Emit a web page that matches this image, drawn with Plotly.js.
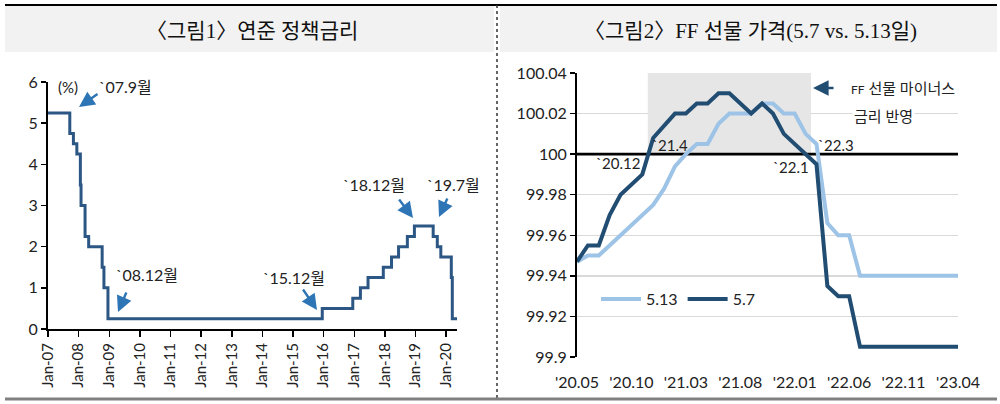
<!DOCTYPE html>
<html>
<head>
<meta charset="utf-8">
<script src="https://cdn.plot.ly/plotly-3.0.1.min.js"></script>
<style>
html,body{margin:0;padding:0;background:#fff;}
#chart{width:1000px;height:404px;}
</style>
</head>
<body>
<div id="chart"></div>
<script>
// ---- Figure 1: Fed policy rate (step changes) ----
const fedDates = ['2007-01-01','2007-09-18','2007-10-31','2007-12-11','2008-01-22','2008-01-30','2008-03-18','2008-04-30','2008-10-08','2008-10-29','2008-12-16','2015-12-16','2016-12-14','2017-03-15','2017-06-14','2017-12-13','2018-03-21','2018-06-13','2018-09-26','2018-12-19','2019-07-31','2019-09-18','2019-10-30','2020-03-03','2020-03-15','2020-05-10'];
const fedRate = [5.25,4.75,4.5,4.25,3.5,3.0,2.25,2.0,1.5,1.0,0.25,0.5,0.75,1.0,1.25,1.5,1.75,2.0,2.25,2.5,2.25,2.0,1.75,1.25,0.25,0.25];

// ---- Figure 2: FF futures price ----
const months = ["'20.05","'20.06","'20.07","'20.08","'20.09","'20.10","'20.11","'20.12","'21.01","'21.02","'21.03","'21.04","'21.05","'21.06","'21.07","'21.08","'21.09","'21.10","'21.11","'21.12","'22.01","'22.02","'22.03","'22.04","'22.05","'22.06","'22.07","'22.08","'22.09","'22.10","'22.11","'22.12","'23.01","'23.02","'23.03","'23.04"];
const price513 = [99.947,99.95,99.95,99.955,99.96,99.965,99.97,99.975,99.983,99.994,100.0,100.005,100.005,100.015,100.02,100.02,100.02,100.025,100.025,100.02,100.02,100.01,100.005,99.966,99.96,99.96,99.94,99.94,99.94,99.94,99.94,99.94,99.94,99.94,99.94,99.94];
const price57  = [99.947,99.955,99.955,99.97,99.98,99.985,99.99,100.008,100.014,100.02,100.02,100.025,100.025,100.03,100.03,100.025,100.02,100.025,100.02,100.01,100.005,100.0,99.995,99.935,99.93,99.93,99.905,99.905,99.905,99.905,99.905,99.905,99.905,99.905,99.905,99.905];
const tickMonths = months.filter((m,i)=> i % 5 === 0);

const FONT = 'Lato, "Noto Sans CJK KR", sans-serif';
const TITLE_FONT = '"Liberation Serif", "DejaVu Serif", "Noto Sans CJK KR", serif';
const TXT = '#222';
const ARROW_BLUE = '#2e75b6';

const px = x => x/1000;
const py = y => 1 - y/404;

const traces = [
  {x: fedDates, y: fedRate, type:'scatter', mode:'lines', line:{shape:'hv', color:'#2c5784', width:3}, xaxis:'x', yaxis:'y', showlegend:false, hoverinfo:'skip'},
  {x: months, y: price513, type:'scatter', mode:'lines', name:'5.13', line:{color:'#9dc3e6', width:4}, xaxis:'x2', yaxis:'y2'},
  {x: months, y: price57, type:'scatter', mode:'lines', name:'5.7', line:{color:'#224d73', width:4}, xaxis:'x2', yaxis:'y2'}
];

function arrow(tipX, tipY, tailX, tailY, color){
  return {xref:'paper', yref:'paper', x:px(tipX), y:py(tipY), ax:tailX-tipX, ay:tailY-tipY,
    axref:'pixel', ayref:'pixel', text:'', showarrow:true, arrowhead:2, arrowsize:1.3, arrowwidth:2.4,
    arrowcolor:color, standoff:0, startstandoff:0};
}
function label(x, y, text, size, anchor, extra){
  return Object.assign({xref:'paper', yref:'paper', x:px(x), y:py(y), text:text, showarrow:false,
    xanchor:anchor||'center', yanchor:'middle', font:{family:FONT, size:size||16, color:TXT}}, extra||{});
}

const annotations = [
  // titles
  {xref:'paper', yref:'paper', x:px(252), y:py(31), text:'〈그림1〉연준 정책금리', showarrow:false, xanchor:'center', yanchor:'middle', font:{family:TITLE_FONT, size:21, color:'#111'}},
  {xref:'paper', yref:'paper', x:px(750), y:py(31), text:'〈그림2〉FF 선물 가격(5.7 vs. 5.13일)', showarrow:false, xanchor:'center', yanchor:'middle', font:{family:TITLE_FONT, size:21, color:'#111'}},
  // figure 1 labels
  label(68, 87, '(%)', 15),
  label(125, 87, '`07.9월', 16),
  label(147, 274, '`08.12월', 16),
  label(294, 277, '`15.12월', 16),
  label(374, 185, '`18.12월', 16),
  label(453, 185, '`19.7월', 16),
  arrow(79, 107, 99, 93, ARROW_BLUE),
  arrow(118, 312, 127, 291, ARROW_BLUE),
  arrow(317, 310, 302, 288, ARROW_BLUE),
  arrow(413, 218, 398, 198, ARROW_BLUE),
  arrow(439, 217, 448, 197, ARROW_BLUE),
  // figure 2 labels
  label(618, 163, '`20.12', 15),
  label(670, 145, '`21.4', 15),
  label(791, 167, '`22.1', 15),
  label(836, 145, '`22.3', 15),
  label(849, 88, '<span style="font-size:12px">FF</span> 선물 마이너스', 15, 'left', {bgcolor:'#fff'}),
  label(852, 116, '금리 반영', 15, 'left', {bgcolor:'#fff'}),
  arrow(813, 88, 835, 88, '#224d73')
];

const shapes = [
  // title bands
  {type:'rect', xref:'paper', yref:'paper', x0:px(5), x1:px(494), y0:py(52), y1:py(5), fillcolor:'#f2f2f2', line:{width:0}, layer:'below'},
  {type:'rect', xref:'paper', yref:'paper', x0:px(500), x1:px(997), y0:py(52), y1:py(5), fillcolor:'#f2f2f2', line:{width:0}, layer:'below'},
  {type:'line', xref:'paper', yref:'paper', x0:px(5), x1:px(997), y0:py(5), y1:py(5), line:{color:'#000', width:2}},
  {type:'line', xref:'paper', yref:'paper', x0:px(497), x1:px(497), y0:py(5), y1:py(400), line:{color:'#333', width:1.5, dash:'dot'}},
  {type:'line', xref:'paper', yref:'paper', x0:px(5), x1:px(997), y0:py(399), y1:py(399), line:{color:'#808080', width:3}},
  // shaded region (negative-rate pricing)
  {type:'rect', xref:'x2', yref:'y2', x0:6.5, x1:21.5, y0:100, y1:100.04, fillcolor:'#e6e6e6', line:{width:0}, layer:'between'},
  // 100 reference line
  {type:'line', xref:'x2', yref:'y2', x0:0, x1:35, y0:100, y1:100, line:{color:'#000', width:2.6}, layer:'between'}
];

const layout = {
  width:1000, height:404,
  margin:{l:0, r:0, t:0, b:0},
  paper_bgcolor:'#fff', plot_bgcolor:'rgba(0,0,0,0)',
  font:{family:FONT, color:TXT},
  showlegend:true,
  legend:{orientation:'h', x:px(596), y:py(299), xanchor:'left', yanchor:'middle', bgcolor:'rgba(0,0,0,0)', font:{family:FONT, size:16, color:TXT}, itemwidth:40, traceorder:'normal'},
  xaxis:{domain:[px(48), px(457)], anchor:'y', type:'date', range:['2007-01-01','2020-05-10'],
    tick0:'2007-01-01', dtick:'M12', tickformat:'%b-%y', tickangle:-90,
    showline:true, linecolor:'#000', linewidth:2, ticks:'outside', ticklen:6, tickcolor:'#000', tickwidth:1.5,
    showgrid:false, zeroline:false, tickfont:{family:FONT, size:15, color:TXT}},
  yaxis:{domain:[py(329), py(82)], anchor:'x', range:[0,6], dtick:1,
    showline:true, linecolor:'#000', linewidth:2, ticks:'outside', ticklen:5, tickcolor:'#000', tickwidth:1.5,
    showgrid:false, zeroline:false, tickfont:{family:FONT, size:16, color:TXT}},
  xaxis2:{domain:[px(577), px(958)], anchor:'y2', type:'category', range:[0,35],
    tickmode:'array', tickvals:tickMonths, ticktext:tickMonths, ticks:'', ticklabelstandoff:14, showline:false, showgrid:false, zeroline:false,
    tickfont:{family:FONT, size:16, color:TXT}},
  yaxis2:{domain:[py(357), py(73)], anchor:'x2', range:[99.9,100.04], tick0:99.9, dtick:0.02,
    showline:true, linecolor:'#000', linewidth:2, ticks:'outside', ticklen:5, tickcolor:'#000', tickwidth:1.5,
    showgrid:true, gridcolor:'#d9d9d9', gridwidth:1.5, zeroline:false,
    tickfont:{family:FONT, size:16, color:TXT}},
  annotations:annotations,
  shapes:shapes
};

Plotly.newPlot('chart', traces, layout, {staticPlot:true, displayModeBar:false});
</script>
</body>
</html>
